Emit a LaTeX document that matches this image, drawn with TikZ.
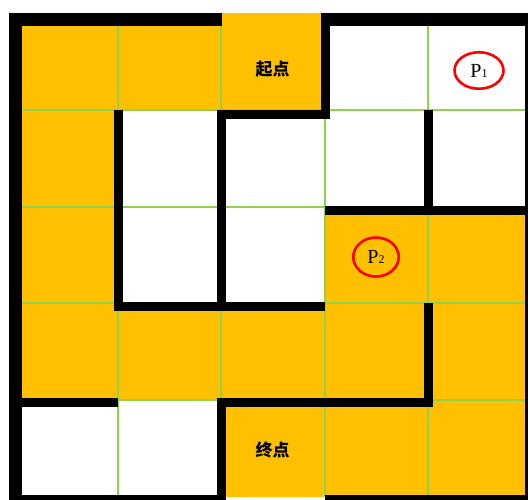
\documentclass[tikz,border=0pt]{standalone}
\usepackage{fontspec}
\setmainfont{Liberation Serif}
\newfontfamily\cjkfont{Noto Sans CJK SC}
\usetikzlibrary{shapes.geometric}
\definecolor{gold}{HTML}{FFC000}
\definecolor{gridgreen}{HTML}{92D050}
\definecolor{ptred}{HTML}{FF0000}
\newcommand{\probetext}[1]{P{\fontsize{12}{12}\selectfont #1}}

\begin{document}
\begin{tikzpicture}[x=1pt,y=-1pt,pathcell/.style={fill=gold},gridline/.style={gridgreen,line width=2pt},wall/.style={line width=9pt},outerwall/.style={line width=13pt},tag/.style={font=\cjkfont\bfseries\fontsize{17}{17}\selectfont,inner sep=0pt},probe/.style={ellipse,draw=ptred,line width=2.6pt,inner sep=0pt,font=\fontsize{20}{20}\selectfont}]
\useasboundingbox (0,0) rectangle (528,500);
\foreach \c/\r in {0/0,1/0,2/0,0/1,0/2,3/2,4/2,0/3,1/3,2/3,3/3,4/3,2/4,3/4,4/4}
  \fill[pathcell] ({15+103.2*\c},{13+96.8*\r}) rectangle ++(103.2,96.8);
\foreach \i in {1,...,4} {
  \draw[gridline] ({15+103.2*\i},13) -- ({15+103.2*\i},497);
  \draw[gridline] (15,{13+96.8*\i}) -- (531,{13+96.8*\i});
}
\draw[outerwall] (226,501.5) -- (15.5,501.5) -- (15.5,19.5) -- (222,19.5);
\draw[outerwall] (321,19.5) -- (531.5,19.5) -- (531.5,501.5) -- (325,501.5);
\draw[wall] (325.5,13) -- (325.5,114.5) -- (221.5,114.5) -- (221.5,306.5);
\draw[wall] (118.5,110) -- (118.5,306.5) -- (325,306.5);
\draw[wall] (428.5,110) -- (428.5,210.5) (325,210.5) -- (531,210.5);
\draw[wall] (428.5,303) -- (428.5,402.5) -- (221.5,402.5) -- (221.5,501);
\draw[wall] (15,402.5) -- (118,402.5);
\node[tag] (start) at (272.5,69) {起点};
\node[tag] (goal) at (272.5,450) {终点};
\node[probe,minimum width=49pt,minimum height=36.5pt] (p1) at (479,70.5) {\probetext{1}};
\node[probe,minimum width=45.5pt,minimum height=39pt] (p2) at (376,257) {\probetext{2}};
\end{tikzpicture}
\end{document}
